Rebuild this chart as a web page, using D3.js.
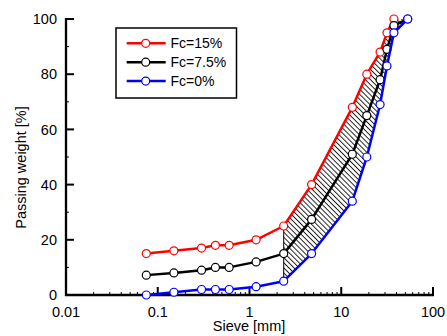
<!DOCTYPE html>
<html>
<head>
<meta charset="utf-8">
<script src="https://cdn.jsdelivr.net/npm/d3@7"></script>
<style>
html,body{margin:0;padding:0;background:#fff;}
svg{display:block;}
text{font-family:"Liberation Sans",Arial,sans-serif;fill:#000;}
</style>
</head>
<body>
<svg id="chart" width="447" height="336"></svg>
<script>
const sieve = [0.075, 0.15, 0.3, 0.425, 0.6, 1.18, 2.36, 4.75, 13.2, 19, 26.5, 31.5, 37.5, 53];
const fc15 = [15, 16, 17, 18, 18, 20, 25, 40, 68, 80, 88, 95, 100, null];
const fc75 = [7.2, 8, 9, 10, 10, 12, 15, 27.4, 51, 65, 78, 89, 97.6, 100];
const fc0  = [0, 1, 2, 2, 2, 3, 5, 15, 34, 50, 69, 83, 95, 100];
const seriesNames = ["Fc=15%", "Fc=7.5%", "Fc=0%"];
const seriesColors = ["#ff0000", "#000000", "#0000ff"];
const xTickLabels = ["0.01", "0.1", "1", "10", "100"];
const xTickValues = [0.01, 0.1, 1, 10, 100];
const yTickValues = [0, 20, 40, 60, 80, 100];
const hatchStart = 2.36;

(function () {
const svg = d3.select("#chart");
const x = d3.scaleLog().domain([0.01, 100]).range([66, 433]);
const y = d3.scaleLinear().domain([0, 100]).range([295, 19]);

const series = [fc15, fc75, fc0].map((vals, i) => ({
  name: seriesNames[i], color: seriesColors[i],
  pts: sieve.map((s, j) => [s, vals[j]]).filter(p => p[1] != null)
}));

// hatch pattern
const defs = svg.append("defs");
const pat = defs.append("pattern").attr("id", "hatch")
  .attr("patternUnits", "userSpaceOnUse").attr("width", 3.6).attr("height", 10)
  .attr("patternTransform", "rotate(-45)");
pat.append("line").attr("x1", 0.5).attr("y1", 0).attr("x2", 0.5).attr("y2", 10)
  .attr("stroke", "#000").attr("stroke-width", 0.9);

const upper = series[0].pts.filter(p => p[0] >= hatchStart);
const lower = series[2].pts.filter(p => p[0] >= hatchStart).slice().reverse();
const poly = upper.concat(lower);
svg.append("path")
  .attr("d", d3.line().x(p => x(p[0])).y(p => y(p[1]))(poly) + "Z")
  .attr("fill", "url(#hatch)").attr("stroke", "none");
svg.append("line")
  .attr("x1", x(hatchStart)).attr("x2", x(hatchStart))
  .attr("y1", y(upper[0][1])).attr("y2", y(lower[lower.length - 1][1]))
  .attr("stroke", "#000").attr("stroke-width", 1);

// axes
const axisG = svg.append("g");
const minorX = [];
for (let d = 0.01; d < 100; d *= 10) for (let k = 2; k <= 9; k++) minorX.push(d * k);
axisG.selectAll(".mx").data(minorX).enter().append("line")
  .attr("x1", d => x(d)).attr("x2", d => x(d)).attr("y1", y(0)).attr("y2", y(0) - 3)
  .attr("stroke", "#000").attr("stroke-width", 1);
axisG.selectAll(".Mx").data(xTickValues.slice(1)).enter().append("line")
  .attr("x1", d => x(d)).attr("x2", d => x(d)).attr("y1", y(0)).attr("y2", y(0) - 8)
  .attr("stroke", "#000").attr("stroke-width", 2);
axisG.selectAll(".my").data([10, 30, 50, 70, 90]).enter().append("line")
  .attr("x1", x(0.01)).attr("x2", x(0.01) + 3).attr("y1", d => y(d)).attr("y2", d => y(d))
  .attr("stroke", "#000").attr("stroke-width", 1);
axisG.selectAll(".My").data(yTickValues.slice(1)).enter().append("line")
  .attr("x1", x(0.01)).attr("x2", x(0.01) + 8).attr("y1", d => y(d)).attr("y2", d => y(d))
  .attr("stroke", "#000").attr("stroke-width", 2);
axisG.append("line").attr("x1", x(0.01) - 1).attr("x2", x(100) + 1).attr("y1", y(0)).attr("y2", y(0))
  .attr("stroke", "#000").attr("stroke-width", 2.3);
axisG.append("line").attr("x1", x(0.01)).attr("x2", x(0.01)).attr("y1", y(0) + 1).attr("y2", y(100) - 1)
  .attr("stroke", "#000").attr("stroke-width", 2.3);

axisG.selectAll(".xl").data(xTickValues).enter().append("text")
  .attr("x", d => x(d)).attr("y", 316.5).attr("text-anchor", "middle")
  .attr("font-size", "14.5px").text((d, i) => xTickLabels[i]);
axisG.selectAll(".yl").data(yTickValues).enter().append("text")
  .attr("x", 57).attr("y", d => y(d) + 5.2).attr("text-anchor", "end")
  .attr("font-size", "14.5px").text(d => d);

svg.append("text").attr("x", 249).attr("y", 331).attr("text-anchor", "middle")
  .attr("font-size", "14.5px").text("Sieve [mm]");
svg.append("text").attr("transform", "translate(26,167.5) rotate(-90)")
  .attr("text-anchor", "middle").attr("font-size", "14.5px").text("Passing weight [%]");

// series
const line = d3.line().x(p => x(p[0])).y(p => y(p[1]));
series.forEach(s => {
  const g = svg.append("g");
  g.append("path").attr("d", line(s.pts)).attr("fill", "none")
    .attr("stroke", s.color).attr("stroke-width", 2.5).attr("stroke-linejoin", "round");
  g.selectAll("circle").data(s.pts).enter().append("circle")
    .attr("cx", p => x(p[0])).attr("cy", p => y(p[1])).attr("r", 4)
    .attr("fill", "#fff").attr("stroke", s.color).attr("stroke-width", 1.2);
});

// legend
const lg = svg.append("g");
lg.append("rect").attr("x", 116).attr("y", 28).attr("width", 120.5).attr("height", 70)
  .attr("fill", "#fff").attr("stroke", "#000").attr("stroke-width", 1.5);
series.forEach((s, i) => {
  const ly = 43.3 + i * 18.9;
  lg.append("line").attr("x1", 126.7).attr("x2", 165.7).attr("y1", ly).attr("y2", ly)
    .attr("stroke", s.color).attr("stroke-width", 2.5);
  lg.append("circle").attr("cx", 145.7).attr("cy", ly).attr("r", 4)
    .attr("fill", "#fff").attr("stroke", s.color).attr("stroke-width", 1.2);
  lg.append("text").attr("x", 170.5).attr("y", ly + 5).attr("font-size", "14px").text(s.name);
});
})();
</script>
</body>
</html>
